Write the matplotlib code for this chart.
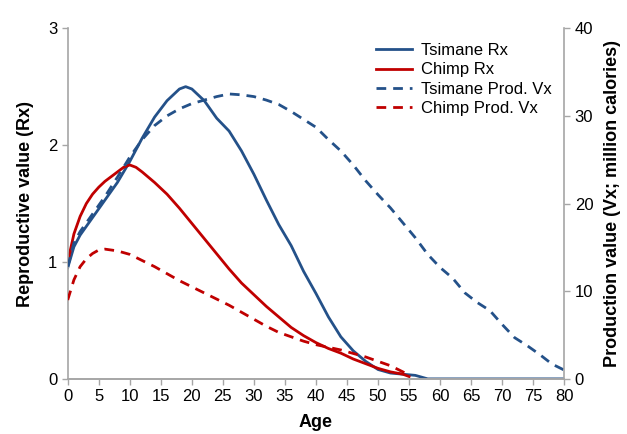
import matplotlib
matplotlib.use("Agg")
import matplotlib.pyplot as plt

plt.rcParams['font.family'] = ['Liberation Sans', 'DejaVu Sans']

# Reproductive value (left axis)
tsimane_rx_age = [0, 1, 2, 4, 6, 8, 10, 12, 14, 16, 18, 19, 20, 22, 24, 26, 28, 30,
                  32, 34, 36, 38, 40, 42, 44, 46, 48, 50, 52, 54, 56, 58, 60, 65,
                  70, 75, 80]
tsimane_rx = [0.95, 1.13, 1.23, 1.38, 1.53, 1.68, 1.86, 2.06, 2.24, 2.38, 2.48, 2.50,
              2.48, 2.38, 2.23, 2.12, 1.95, 1.75, 1.53, 1.32, 1.14, 0.92, 0.73, 0.53,
              0.36, 0.24, 0.15, 0.08, 0.05, 0.04, 0.03, 0.0, 0.0, 0.0, 0.0, 0.0, 0.0]

chimp_rx_age = [0, 1, 2, 3, 4, 5, 6, 8, 9, 10, 11, 12, 14, 16, 18, 20, 22, 24, 26,
                28, 30, 32, 34, 36, 38, 40, 42, 44, 46, 48, 50, 52, 54, 55]
chimp_rx = [1.0, 1.24, 1.39, 1.50, 1.58, 1.64, 1.69, 1.77, 1.81, 1.83, 1.81, 1.77,
            1.68, 1.58, 1.46, 1.33, 1.20, 1.07, 0.94, 0.82, 0.72, 0.62, 0.53, 0.44,
            0.37, 0.31, 0.26, 0.22, 0.17, 0.13, 0.09, 0.06, 0.04, 0.02]

# Production value (right axis, million calories)
tsimane_vx_age = [0, 1, 2, 4, 6, 8, 10, 12, 14, 16, 18, 20, 22, 24, 26, 28, 30, 32,
                  34, 36, 38, 40, 42, 44, 46, 48, 50, 52, 54, 56, 58, 60, 62, 64,
                  66, 68, 70, 72, 74, 76, 78, 80]
tsimane_vx = [12.8, 15.5, 16.8, 18.8, 20.8, 23.0, 25.3, 27.3, 28.9, 30.0, 30.8, 31.4,
              31.8, 32.2, 32.5, 32.4, 32.2, 31.8, 31.3, 30.5, 29.6, 28.7, 27.3, 26.0,
              24.4, 22.6, 21.0, 19.5, 17.8, 16.1, 14.2, 12.7, 11.5, 9.8, 8.7, 7.8,
              6.2, 4.7, 3.8, 2.8, 1.7, 1.0]

chimp_vx_age = [0, 1, 2, 3, 4, 5, 6, 8, 10, 12, 14, 16, 18, 20, 22, 24, 26, 28, 30,
                32, 34, 36, 38, 40, 42, 44, 46, 48, 50, 52, 54, 55]
chimp_vx = [9.0, 11.3, 12.8, 13.7, 14.3, 14.7, 14.8, 14.6, 14.2, 13.5, 12.8, 12.0,
            11.2, 10.5, 9.8, 9.1, 8.4, 7.6, 6.8, 6.0, 5.3, 4.8, 4.3, 3.9, 3.6, 3.3,
            2.9, 2.5, 2.0, 1.5, 0.8, 0.4]

BLUE = '#245189'
RED = '#c00000'
GREY = '#a6a6a6'

fig = plt.figure(figsize=(6.27, 4.34), dpi=100)
ax = fig.add_axes([0.108, 0.127, 0.792, 0.808])
ax2 = ax.twinx()

l1, = ax.plot(tsimane_rx_age, tsimane_rx, color=BLUE, lw=2.0, label='Tsimane Rx')
l2, = ax.plot(chimp_rx_age, chimp_rx, color=RED, lw=2.0, label='Chimp Rx')
l3, = ax2.plot(tsimane_vx_age, tsimane_vx, color=BLUE, lw=2.0, ls=(0, (3.5, 2.5)),
               label='Tsimane Prod. Vx')
l4, = ax2.plot(chimp_vx_age, chimp_vx, color=RED, lw=2.0, ls=(0, (3.5, 2.5)),
               label='Chimp Prod. Vx')

ax.set_xlim(0, 80)
ax.set_ylim(0, 3)
ax2.set_ylim(0, 40)
ax.set_xticks(range(0, 81, 5))
ax.set_yticks([0, 1, 2, 3])
ax2.set_yticks([0, 10, 20, 30, 40])

for a in (ax, ax2):
    a.spines['top'].set_visible(False)
    for s in ('left', 'right', 'bottom'):
        a.spines[s].set_color(GREY)
        a.spines[s].set_linewidth(1.2)
    a.tick_params(colors=GREY, labelcolor='black', labelsize=12, length=4, width=1)
ax2.spines['left'].set_visible(False)
ax.spines['right'].set_visible(False)

ax.set_xlabel('Age', fontsize=13, fontweight='bold', labelpad=7)
ax.set_ylabel('Reproductive value (Rx)', fontsize=13, fontweight='bold', labelpad=10)
ax2.set_ylabel('Production value (Vx; million calories)', fontsize=13,
               fontweight='bold', labelpad=8)

fig.legend(handles=[l1, l2, l3, l4], loc='upper left', bbox_to_anchor=(0.575, 0.935),
           frameon=False, fontsize=12, handlelength=2.2, labelspacing=0.25,
           handletextpad=0.5)

fig.savefig('out.png', dpi=100)
